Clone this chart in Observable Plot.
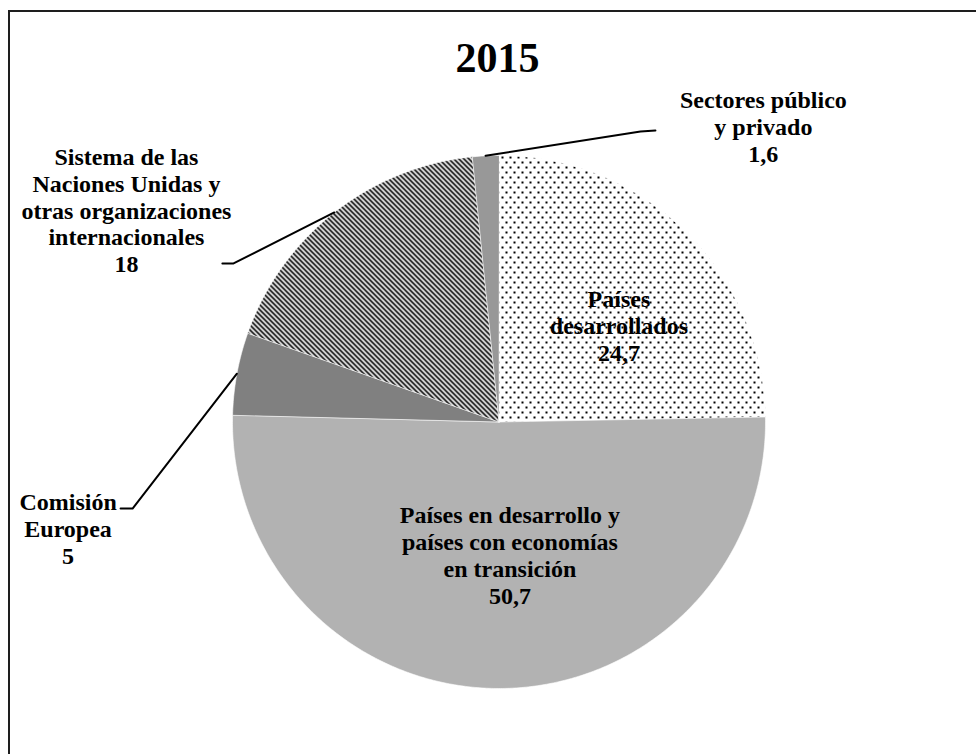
<!DOCTYPE html>
<html><head><meta charset="utf-8">
<script src="https://cdn.jsdelivr.net/npm/d3@7"></script>
<script src="https://cdn.jsdelivr.net/npm/@observablehq/plot@0.6"></script>
<style>
html,body{margin:0;padding:0;background:#fff;overflow:hidden;}
#wrap{position:relative;width:976px;height:754px;overflow:hidden;}
#chart{position:absolute;left:0;top:0;}
#border{position:absolute;left:8px;top:10px;width:1200px;height:1200px;border-left:2px solid #1e1e1e;border-top:2px solid #1e1e1e;pointer-events:none;}
</style></head><body>
<div id="wrap"><div id="chart"></div><div id="border"></div></div>
<script>
// ---- data ----
const title = "2015";
const categories = [
  "Países desarrollados",
  "Países en desarrollo y países con economías en transición",
  "Comisión Europea",
  "Sistema de las Naciones Unidas y otras organizaciones internacionales",
  "Sectores público y privado"
];
const values = [24.7, 50.7, 5, 18, 1.6];
const valueLabels = ["24,7", "50,7", "5", "18", "1,6"];
const labelLines = [
  ["Países", "desarrollados"],
  ["Países en desarrollo y", "países con economías", "en transición"],
  ["Comisión", "Europea"],
  ["Sistema de las", "Naciones Unidas y", "otras organizaciones", "internacionales"],
  ["Sectores público", "y privado"]
];

// ---- styles ----
const fills = ["url(#dots)", "#b2b2b2", "#808080", "url(#hatch)", "#989898"];

// ---- layout (in pie-radius units, y up) ----
const pieCenter = [498.5, 421.5];
const pieRadius = 266.5;
const labelPos = [[0.450, 0.361], [0.041, -0.500], [-1.617, -0.398], [-1.398, 0.796], [0.992, 1.108]];
const leaderBends = [null, null,
  [[-1.375, -0.325], [-1.420, -0.325]],
  [[-0.996, 0.595], [-1.038, 0.595]],
  [[0.531, 1.090], [0.587, 1.094]]];
const titlePos = [-0.006, 1.363];

// ---- build ----
const arcs = d3.pie().sort(null).value(d => d)(values);
const slices = arcs.map((a, i) => {
  const n = Math.max(2, Math.ceil((a.endAngle - a.startAngle) / (Math.PI / 360)));
  const ring = [[0, 0]];
  for (let k = 0; k <= n; k++) {
    const t = a.startAngle + (a.endAngle - a.startAngle) * k / n;
    ring.push([Math.sin(t), Math.cos(t)]);
  }
  ring.push([0, 0]);
  return {type: "Feature", properties: {name: categories[i], fill: fills[i]},
          geometry: {type: "Polygon", coordinates: [ring]}};
});

const leaders = [];
arcs.forEach((a, i) => {
  if (!leaderBends[i]) return;
  const m = (a.startAngle + a.endAngle) / 2;
  leaders.push({x: Math.sin(m), y: Math.cos(m), z: i});
  leaderBends[i].forEach(p => leaders.push({x: p[0], y: p[1], z: i}));
});

const labels = categories.map((c, i) => ({
  x: labelPos[i][0], y: labelPos[i][1],
  text: labelLines[i].concat([valueLabels[i]]).join("\n")
}));

const projection = d3.geoIdentity().reflectY(true).scale(pieRadius).translate(pieCenter);

const font = "Liberation Serif";
const svg = Plot.plot({
  width: 976,
  height: 754,
  margin: 0,
  projection,
  color: {type: "identity"},
  marks: [
    Plot.geo(slices, {fill: d => d.properties.fill, stroke: "white", strokeWidth: 0.6}),
    Plot.line(leaders, {x: "x", y: "y", z: "z", stroke: "black", strokeWidth: 2}),
    Plot.text(labels, {x: "x", y: "y", text: "text", fontSize: 24, fontWeight: "bold",
      fontFamily: font, lineHeight: 1.125, fill: "black", textAnchor: "middle"}),
    Plot.text([title], {x: () => titlePos[0], y: () => titlePos[1], text: d => d, fontSize: 42,
      fontWeight: "bold", fontFamily: font, fill: "black", textAnchor: "middle"})
  ]
});

svg.insertAdjacentHTML("afterbegin",
  `<defs>
    <pattern id="dots" patternUnits="userSpaceOnUse" width="8" height="10">
      <rect width="8" height="10" fill="white"/>
      <rect x="1" y="1" width="2" height="2" fill="black"/>
      <rect x="5" y="6" width="2" height="2" fill="black"/>
    </pattern>
    <pattern id="hatch" patternUnits="userSpaceOnUse" width="5" height="5">
      <rect width="5" height="5" fill="white"/>
      <path d="M0,0L5,5M-1,4L1,6M4,-1L6,1" stroke="black" stroke-width="1.7"/>
    </pattern>
  </defs>`);
document.getElementById("chart").appendChild(svg);
</script>
</body></html>
